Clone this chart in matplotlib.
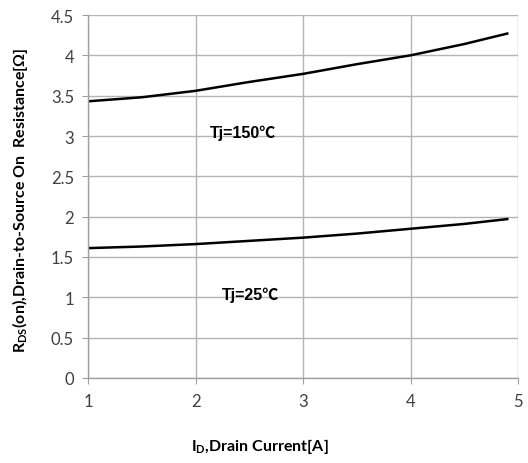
import matplotlib
matplotlib.use("Agg")
import matplotlib.pyplot as plt

# Data
current_a = [1.0, 1.5, 2.0, 2.5, 3.0, 3.5, 4.0, 4.5, 4.9]
r_150c = [3.43, 3.48, 3.56, 3.67, 3.77, 3.89, 4.00, 4.14, 4.27]
r_25c = [1.61, 1.63, 1.66, 1.70, 1.74, 1.79, 1.85, 1.91, 1.97]
x_ticks = [1, 2, 3, 4, 5]
y_ticks = [0, 0.5, 1, 1.5, 2, 2.5, 3, 3.5, 4, 4.5]
y_tick_labels = ["0", "0.5", "1", "1.5", "2", "2.5", "3", "3.5", "4", "4.5"]

plt.rcParams['mathtext.fontset'] = 'custom'
plt.rcParams['mathtext.rm'] = 'Lato:bold'

fig = plt.figure(figsize=(5.28, 4.64), dpi=100)
ax = fig.add_axes([88/528, 1-379/464, (518-88)/528, (379-16)/464])

ax.plot(current_a, r_150c, color='black', lw=1.8)
ax.plot(current_a, r_25c, color='black', lw=1.8)

ax.set_xlim(1, 5)
ax.set_ylim(0, 4.5)
ax.set_xticks(x_ticks)
ax.set_xticklabels([str(v) for v in x_ticks])
ax.set_yticks(y_ticks)
ax.set_yticklabels(y_tick_labels)

ax.grid(True, color='#b4b4b4', lw=1.0)
ax.set_axisbelow(True)
for s in ['top', 'right']:
    ax.spines[s].set_visible(False)
for s in ['left', 'bottom']:
    ax.spines[s].set_color('#a0a0a0')
    ax.spines[s].set_linewidth(1.0)
ax.tick_params(axis='both', direction='out', length=4, color='#a0a0a0',
               labelsize=12, labelcolor='#404040')
for lab in ax.get_xticklabels() + ax.get_yticklabels():
    lab.set_family('Lato')
ax.tick_params(axis='x', pad=7)
ax.tick_params(axis='y', pad=6)

ann_family = ['Liberation Sans', 'Noto Sans CJK SC']
ax.text(2.13, 3.05, "Tj=150℃", family=ann_family,
        fontweight='bold', fontsize=11.5, va='center', ha='left')
ax.text(2.25, 1.04, "Tj=25℃", family=ann_family,
        fontweight='bold', fontsize=11.5, va='center', ha='left')

fig.text(20/528, 1-200/464, r"R$_\mathrm{DS}$(on),Drain-to-Source On  Resistance[Ω]",
         rotation=90, family='Lato', fontweight='bold', fontsize=11.5,
         ha='center', va='center')
fig.text(260/528, 1-447/464, r"I$_\mathrm{D}$,Drain Current[A]",
         family='Lato', fontweight='bold', fontsize=11.5, ha='center', va='center')

fig.savefig("out.png", dpi=100)
